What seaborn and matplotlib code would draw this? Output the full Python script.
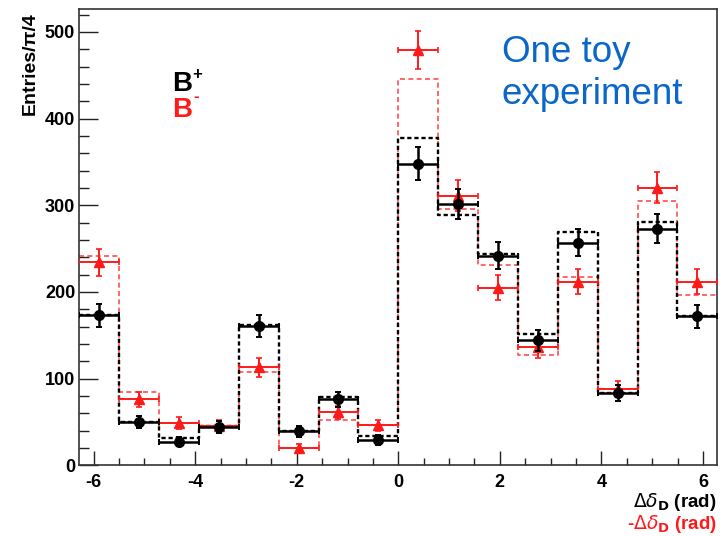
import numpy as np
import pandas as pd
import matplotlib
matplotlib.use("Agg")
import matplotlib.pyplot as plt
from matplotlib.ticker import MultipleLocator
import seaborn as sns

# Binning: 16 bins of width pi/4 covering [-2pi, 2pi]
bin_edges = np.linspace(-2 * np.pi, 2 * np.pi, 17)
bin_centers = 0.5 * (bin_edges[:-1] + bin_edges[1:])
half_width = np.pi / 8

# B+ sample (toy data and expected shape)
bplus_counts = [173, 50, 27, 44, 161, 39, 76, 29, 348, 301, 242, 144, 257, 83, 273, 172]
bplus_errors = [13.2, 7.1, 5.2, 6.6, 12.7, 6.2, 8.7, 5.4, 18.7, 17.3, 15.6, 12.0, 16.0, 9.1, 16.5, 13.1]
bplus_expected = [173, 50, 31, 45, 162, 39, 79, 34, 377, 289, 244, 152, 269, 83, 281, 172]

# B- sample (toy data and expected shape)
bminus_counts = [234, 76, 49, 45, 113, 20, 61, 46, 479, 311, 205, 136, 212, 88, 320, 212]
bminus_errors = [15.3, 8.7, 7.0, 6.7, 10.6, 4.5, 7.8, 6.8, 21.9, 17.6, 14.3, 11.7, 14.6, 9.4, 17.9, 14.6]
bminus_expected = [241, 84, 49, 45, 108, 20, 52, 46, 446, 296, 231, 127, 217, 88, 305, 197]

y_ticks = [0, 100, 200, 300, 400, 500]
x_ticks = [-6, -4, -2, 0, 2, 4, 6]

sns.set_theme(style="ticks")
plt.rcParams["font.family"] = ["Liberation Sans", "DejaVu Sans"]
plt.rcParams["axes.unicode_minus"] = False
plt.rcParams["mathtext.fontset"] = "dejavusans"

W, H = 724, 536
fig = plt.figure(figsize=(W / 100, H / 100), dpi=100)
fig.patch.set_facecolor("white")
ax = fig.add_axes([79.3 / W, 1 - 465.3 / H, (717.3 - 79.3) / W, (465.3 - 9.3) / H])
ax.set_facecolor("white")

df = pd.DataFrame({
    "center": bin_centers,
    "bplus_expected": bplus_expected,
    "bminus_expected": bminus_expected,
})
edge_list = [float(e) for e in bin_edges]

red = "#ff1a1a"
# Expected shapes as dashed step outlines
sns.histplot(data=df, x="center", weights="bminus_expected", bins=edge_list,
             element="step", fill=False, color="#ff4d4d", linewidth=1.2,
             linestyle=(0, (3.0, 2.0)), ax=ax, zorder=2)
sns.histplot(data=df, x="center", weights="bplus_expected", bins=edge_list,
             element="step", fill=False, color="black", linewidth=1.7,
             linestyle=(0, (1.8, 1.2)), ax=ax, zorder=2.1)

# Toy data points with Poisson errors and bin-width horizontal bars
ax.errorbar(bin_centers, bminus_counts, xerr=half_width, yerr=bminus_errors,
            fmt="^", color=red, ms=6.5, elinewidth=1.4, capsize=2.2,
            capthick=1.2, zorder=3)
ax.errorbar(bin_centers, bplus_counts, xerr=half_width, yerr=bplus_errors,
            fmt="o", color="black", ms=7, elinewidth=1.8, capsize=2.2,
            capthick=1.4, zorder=4)

ax.set_xlim(-2 * np.pi, 2 * np.pi)
ax.set_ylim(0, 526)
ax.set_xticks(x_ticks)
ax.set_xticklabels([str(t) for t in x_ticks])
ax.set_yticks(y_ticks)
ax.set_yticklabels([str(t) for t in y_ticks])
ax.xaxis.set_minor_locator(MultipleLocator(0.5))
ax.yaxis.set_minor_locator(MultipleLocator(20))
ax.tick_params(which="both", direction="in", top=False, right=False,
               colors="#222222", width=1.0)
ax.tick_params(axis="x", which="major", length=9.8, pad=6, labelsize=13)
ax.tick_params(axis="x", which="minor", length=5)
ax.tick_params(axis="y", which="major", length=13.7, pad=3, labelsize=13)
ax.tick_params(axis="y", which="minor", length=7)
for lbl in ax.get_xticklabels() + ax.get_yticklabels():
    lbl.set_fontweight("bold")
    lbl.set_color("black")
for sp in ax.spines.values():
    sp.set_visible(True)
    sp.set_color("#333333")
    sp.set_linewidth(1.2)
ax.set_xlabel("")
ax.set_ylabel("")
ax.grid(False)


def px(x, y):
    return x / W, 1 - y / H


# Axis titles
fig.text(*px(30, 12), "Entries/\u03c0/4", rotation=90, ha="center", va="top",
         fontsize=14, fontweight="bold", color="black")
fig.text(*px(717, 507), r"$\Delta\delta_{\mathbf{D}}$ (rad)", ha="right",
         va="baseline", fontsize=13.5, fontweight="bold", color="black")
fig.text(*px(717, 529), r"-$\Delta\delta_{\mathbf{D}}$ (rad)", ha="right",
         va="baseline", fontsize=13.5, fontweight="bold", color=red)

# Sample labels
fig.text(*px(172, 91), "B", ha="left", va="baseline", fontsize=20,
         fontweight="bold", color="black")
fig.text(*px(192, 79), "+", ha="left", va="baseline", fontsize=12,
         fontweight="bold", color="black")
fig.text(*px(172, 117), "B", ha="left", va="baseline", fontsize=20,
         fontweight="bold", color=red)
fig.text(*px(193, 101), "-", ha="left", va="baseline", fontsize=12,
         fontweight="bold", color=red)

# Annotation
blue = "#0a66c8"
fig.text(*px(502, 62), "One toy", ha="left", va="baseline", fontsize=26.5,
         color=blue)
fig.text(*px(502, 104), "experiment", ha="left", va="baseline", fontsize=26.5,
         color=blue)

fig.savefig("out.png", dpi=100, facecolor="white")
